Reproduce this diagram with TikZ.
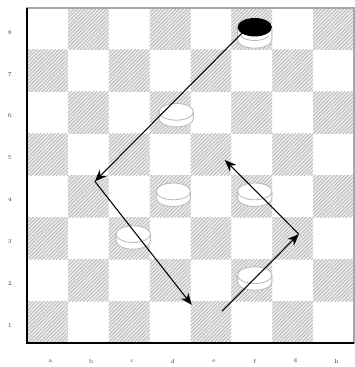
\documentclass[tikz,border=0pt]{standalone}
\usepackage{tikz}
\usetikzlibrary{arrows.meta, patterns.meta}

\begin{document}
\begin{tikzpicture}[
    x=1.227cm, y=1.257cm,
    every node/.style={font=\tiny, text=black!75},
    darksq/.style={pattern={Lines[angle=45, distance=2.2pt, line width=0.6pt]}, pattern color=gray!60},
    rim/.style={draw=gray!55, line width=0.7pt},
    move/.style={-{Stealth[length=10pt, width=8pt]}, line width=0.9pt},
    man/.pic={
        \fill[white] (-0.42,0) -- (-0.42,-0.16) arc (180:360:0.42 and 0.2) -- (0.42,0)
            arc (0:180:0.42 and 0.2) -- cycle;
        \draw[rim] (-0.42,0) -- (-0.42,-0.16) arc (180:360:0.42 and 0.2) -- (0.42,0);
        \draw[rim] (-0.3,-0.12) -- (0.3,-0.12);
        \draw[rim, fill=white] (0,0) ellipse (0.42 and 0.2);
    },
    blackman/.pic={
        \fill[white] (-0.42,0) -- (-0.42,-0.3) arc (180:360:0.42 and 0.2) -- (0.42,0) -- cycle;
        \draw[rim] (-0.42,0) -- (-0.42,-0.3) arc (180:360:0.42 and 0.2) -- (0.42,0);
        \draw[rim] (-0.35,-0.2) arc (200:340:0.37 and 0.18);
        \fill[black] (0,0) ellipse (0.42 and 0.22);
    },
]
    % --- page size ---
    \useasboundingbox (-0.66,-0.573) rectangle (8.0,8.19);

    % --- squares (a1 is dark) ---
    \foreach \r in {0,...,7}{
        \foreach \c in {0,...,7}{
            \pgfmathtruncatemacro\odd{mod(\r+\c,2)}
            \ifnum\odd=0
                \fill[gray!15] (\c,\r) rectangle ++(1,1);
                \fill[darksq] (\c,\r) rectangle ++(1,1);
            \fi
        }
    }

    % --- frame ---
    \draw[gray!70, line width=1pt] (0,0) rectangle (8,8);
    \draw[line width=1.6pt] (0,8) -- (0,0) -- (8,0);

    % --- coordinates ---
    \foreach \n [count=\r] in {1,...,8}
        \node (rank\n) at (-0.42, \r-0.58) {\n};
    \foreach \f [count=\c] in {a,b,c,d,e,f,g,h}
        \node (file\f) at (\c-0.43, -0.43) {\f};

    % --- men ---
    \pic at (5.57,7.54) {blackman};
    \pic at (3.65,5.52) {man};
    \pic at (3.58,3.62) {man};
    \pic at (5.57,3.62) {man};
    \pic at (2.6,2.6) {man};
    \pic at (5.57,1.62) {man};

    % --- jump points ---
    \coordinate (jf8) at (5.33,7.47);
    \coordinate (jb4) at (1.66,3.86);
    \coordinate (je1) at (4.03,0.91);
    \coordinate (je1b) at (4.77,0.76);
    \coordinate (jg3) at (6.65,2.6);
    \coordinate (je5) at (4.84,4.37);

    % --- moves ---
    \draw[move] (jf8) -- (jb4);
    \draw[move] (jb4) -- (je1);
    \draw[move] (je1b) -- (jg3);
    \draw[move] (jg3) -- (je5);
\end{tikzpicture}
\end{document}
